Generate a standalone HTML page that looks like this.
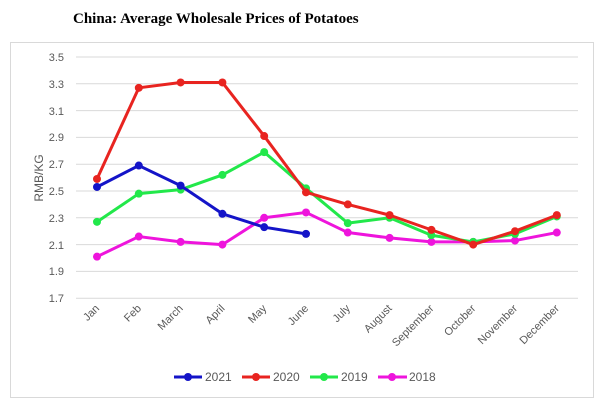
<!DOCTYPE html>
<html><head><meta charset="utf-8"><style>
body{margin:0;background:#fff;width:600px;height:405px;overflow:hidden}
svg{display:block}
</style></head><body>
<svg width="600" height="405" xmlns="http://www.w3.org/2000/svg" font-family="Liberation Sans, sans-serif">
<text x="73" y="23" font-family="Liberation Serif, serif" font-weight="bold" font-size="15" fill="#000">China: Average Wholesale Prices of Potatoes</text>
<rect x="10.5" y="42.5" width="583" height="355" fill="#fff" stroke="#d9d9d9"/>
<g stroke="#d9d9d9" stroke-width="1">
<line x1="76" x2="578" y1="57" y2="57"/><line x1="76" x2="578" y1="83.8" y2="83.8"/><line x1="76" x2="578" y1="110.6" y2="110.6"/><line x1="76" x2="578" y1="137.4" y2="137.4"/><line x1="76" x2="578" y1="164.2" y2="164.2"/><line x1="76" x2="578" y1="191" y2="191"/><line x1="76" x2="578" y1="217.8" y2="217.8"/><line x1="76" x2="578" y1="244.6" y2="244.6"/><line x1="76" x2="578" y1="271.4" y2="271.4"/><line x1="76" x2="578" y1="298.2" y2="298.2"/>
</g>
<g font-size="11" fill="#595959" text-anchor="end">
<text x="64" y="61">3.5</text><text x="64" y="88">3.3</text><text x="64" y="115">3.1</text><text x="64" y="141">2.9</text><text x="64" y="168">2.7</text><text x="64" y="195">2.5</text><text x="64" y="222">2.3</text><text x="64" y="249">2.1</text><text x="64" y="275">1.9</text><text x="64" y="302">1.7</text>
</g>
<text transform="translate(43,178) rotate(-90)" text-anchor="middle" font-size="12" fill="#595959">RMB/KG</text>
<g font-size="11" fill="#595959" text-anchor="end" id="xl"></g>
<g id="series"></g>
<g font-size="12" fill="#595959">
<line x1="174" x2="202" y1="377" y2="377" stroke="#1414c8" stroke-width="3"/><circle cx="188" cy="377" r="4" fill="#1414c8"/><text x="205" y="381">2021</text>
<line x1="242" x2="270" y1="377" y2="377" stroke="#e82420" stroke-width="3"/><circle cx="256" cy="377" r="4" fill="#e82420"/><text x="273" y="381">2020</text>
<line x1="310" x2="338" y1="377" y2="377" stroke="#22e84a" stroke-width="3"/><circle cx="324" cy="377" r="4" fill="#22e84a"/><text x="341" y="381">2019</text>
<line x1="378" x2="407" y1="377" y2="377" stroke="#ee14dc" stroke-width="3"/><circle cx="392" cy="377" r="4" fill="#ee14dc"/><text x="409" y="381">2018</text>
</g>
<script>
var ns="http://www.w3.org/2000/svg";
var m=["Jan","Feb","March","April","May","June","July","August","September","October","November","December"];
function X(i){return 97+i*41.8}function Y(v){return 57+134*(3.5-v)}
var xl=document.getElementById("xl");
m.forEach(function(t,i){var e=document.createElementNS(ns,"text");var x=X(i)+3,y=309;e.setAttribute("transform","translate("+x+","+y+") rotate(-45)");e.textContent=t;xl.appendChild(e)});
var S=[["#ee14dc",[2.01,2.16,2.12,2.10,2.30,2.34,2.19,2.15,2.12,2.12,2.13,2.19]],
["#22e84a",[2.27,2.48,2.51,2.62,2.79,2.52,2.26,2.30,2.17,2.12,2.18,2.31]],
["#e82420",[2.59,3.27,3.31,3.31,2.91,2.49,2.40,2.32,2.21,2.10,2.20,2.32]],
["#1414c8",[2.53,2.69,2.54,2.33,2.23,2.18]]];
var g=document.getElementById("series");
S.forEach(function(s){var p=s[1].map(function(v,i){return X(i)+","+Y(v)}).join(" ");
var l=document.createElementNS(ns,"polyline");l.setAttribute("points",p);l.setAttribute("fill","none");l.setAttribute("stroke",s[0]);l.setAttribute("stroke-width","3");l.setAttribute("stroke-linejoin","round");g.appendChild(l);
s[1].forEach(function(v,i){var c=document.createElementNS(ns,"circle");c.setAttribute("cx",X(i));c.setAttribute("cy",Y(v));c.setAttribute("r","4");c.setAttribute("fill",s[0]);g.appendChild(c)})});
</script>
</svg>
</body></html>
